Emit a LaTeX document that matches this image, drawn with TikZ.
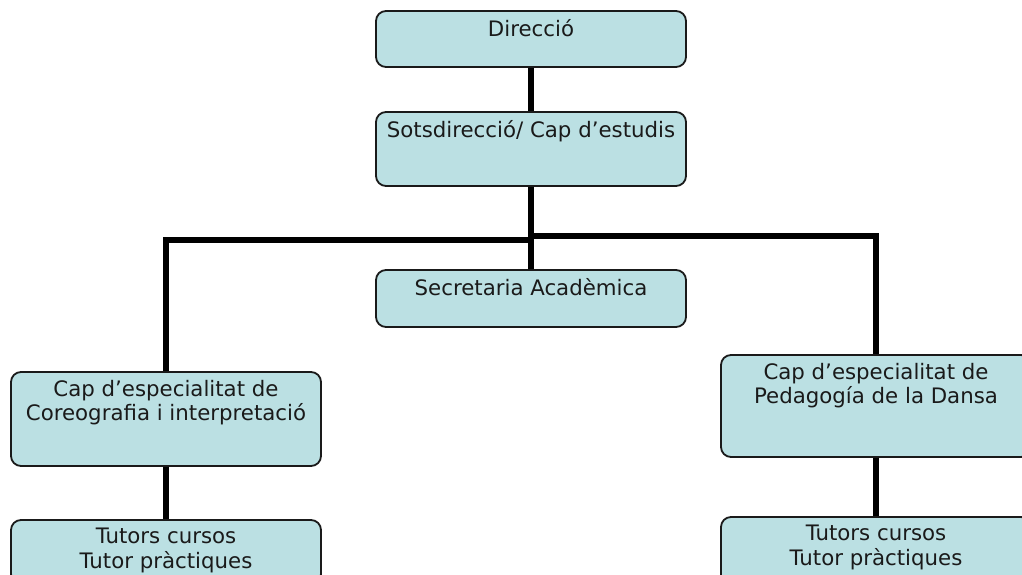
\documentclass[tikz,border=0pt]{standalone}
\usepackage{fontspec}
\setmainfont{DejaVu Sans}
\definecolor{boxfill}{RGB}{187,224,227}
\definecolor{ink}{RGB}{26,26,26}

\begin{document}
\begin{tikzpicture}[x=1pt, y=-1pt,
	unit/.style={draw=ink, line width=1.8pt, fill=boxfill, rounded corners=10pt,
		minimum width=310pt, inner sep=0pt},
	caption/.style={anchor=north, yshift=-9pt, inner sep=0pt, align=center,
		text=ink, font=\fontsize{21.3}{24.5}\selectfont},
	link/.style={line width=6pt, black}]
	\clip (0,0) rectangle (1022,574);
	\node [unit, minimum height=56pt, label={[caption]north:Direcció}] (1) at (531,39)
		{};
	\node [unit, minimum height=74pt, label={[caption]north:Sotsdirecció/ Cap d’estudis}] (2) at (531,149)
		{};
	\node [unit, minimum height=57pt, label={[caption]north:Secretaria Acadèmica}] (3) at (531,298.5)
		{};
	\node [unit, minimum height=94pt, label={[caption]north:Cap d’especialitat de\\Coreografia i interpretació}] (4) at (166,419)
		{};
	\node [unit, minimum height=102pt, label={[caption]north:Cap d’especialitat de\\Pedagogía de la Dansa}] (5) at (876,406)
		{};
	\node [unit, minimum height=64pt, label={[caption]north:Tutors cursos\\Tutor pràctiques}] (6) at (166,552)
		{};
	\node [unit, minimum height=68pt, label={[caption]north:Tutors cursos\\Tutor pràctiques}] (7) at (876,551)
		{};
	\coordinate (l) at (531,240);
	\coordinate (r) at (531,236);
	\draw [link] (1) to (2);
	\draw [link] (2) to (3);
	\draw [link] (4) |- (l);
	\draw [link] (5) |- (r);
	\draw [link] (4) to (6);
	\draw [link] (5) to (7);
\end{tikzpicture}
\end{document}
